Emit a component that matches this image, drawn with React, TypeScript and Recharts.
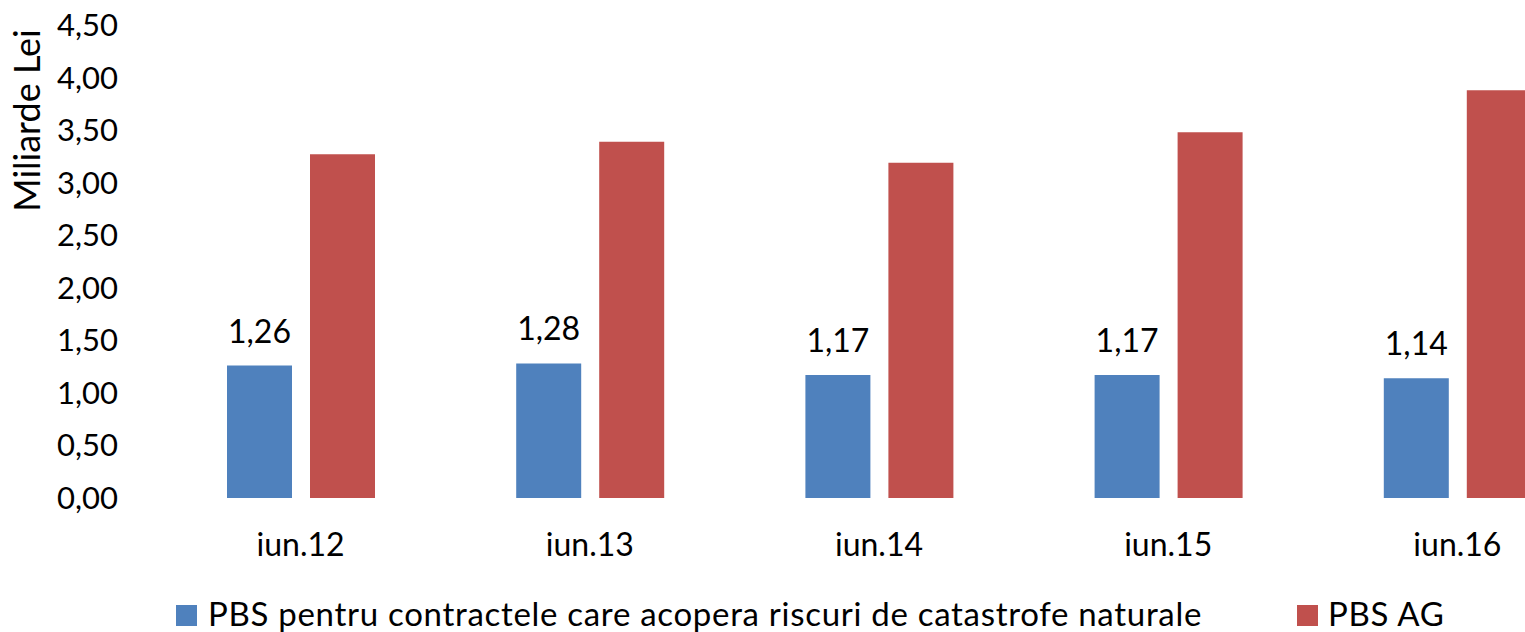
import React from 'react';
import { BarChart, Bar, XAxis, YAxis, Legend, LabelList, Label } from 'recharts';

const categories = ['iun.12', 'iun.13', 'iun.14', 'iun.15', 'iun.16'];
const catastrofeValues = [1.26, 1.28, 1.17, 1.17, 1.14];
const agValues = [3.27, 3.39, 3.19, 3.48, 3.88];
const yTicks = [0, 0.5, 1, 1.5, 2, 2.5, 3, 3.5, 4, 4.5];
const seriesNames = ['PBS pentru contractele care acopera riscuri de catastrofe naturale', 'PBS AG'];
const axisTitle = 'Miliarde Lei';

const data = categories.map((c, i) => ({ cat: c, a: catastrofeValues[i], b: agValues[i] }));

const FONT = 'Lato, "Open Sans", sans-serif';
const BLUE = '#4F81BD';
const RED = '#C0504D';

const fmt = (v: number) => v.toFixed(2).replace('.', ',');

const YTitle = () => (
  <text x={40} y={120.5} transform="rotate(-90, 40, 120.5)" textAnchor="middle" fontFamily={FONT} fontSize={36} fill="#000">
    {axisTitle}
  </text>
);

const legendPos: Record<string, { sq: number; tx: number }> = {
  a: { sq: 176, tx: 208 },
  b: { sq: 1297, tx: 1328 },
};

const renderLegend = (props: any) => {
  const payload = props.payload || [];
  return (
    <div style={{ position: 'relative', height: 44, width: 1525, fontFamily: FONT, fontSize: 33, letterSpacing: '0.7px', color: '#000' }}>
      {payload.map((p: any, i: number) => {
        const pos = legendPos[p.dataKey] || legendPos.a;
        return (
          <React.Fragment key={i}>
            <div style={{ position: 'absolute', left: pos.sq, top: 17, width: 21, height: 21, background: p.color }} />
            <div style={{ position: 'absolute', left: pos.tx, top: 7, lineHeight: '36px', whiteSpace: 'nowrap' }}>{p.value}</div>
          </React.Fragment>
        );
      })}
    </div>
  );
};

export default function App() {
  return (
    <div style={{ position: 'absolute', left: 0, top: 0, width: 1525, height: 632, overflow: 'hidden', background: '#fff' }}>
      <BarChart
        width={1620}
        height={632}
        data={data}
        margin={{ top: 25, right: 18, bottom: 0, left: 0 }}
        barSize={65}
        barGap={18}
      >
        <XAxis
          dataKey="cat"
          axisLine={false}
          tickLine={false}
          tickSize={0}
          tickMargin={35}
          height={90}
          interval={0}
          tick={{ fontFamily: FONT, fontSize: 32, fill: '#000' }}
        />
        <YAxis
          domain={[0, 4.5]}
          ticks={yTicks}
          width={156}
          axisLine={false}
          tickLine={false}
          tickSize={0}
          tickMargin={38}
          tickFormatter={fmt}
          interval={0}
          tick={{ fontFamily: FONT, fontSize: 31, fill: '#000' }}
        >
          <Label content={YTitle} />
        </YAxis>
        <Legend verticalAlign="bottom" content={renderLegend} wrapperStyle={{ left: 0, width: 1525, height: 44 }} />
        <Bar dataKey="a" name={seriesNames[0]} fill={BLUE} isAnimationActive={false}>
          <LabelList dataKey="a" position="top" offset={23} formatter={(v: any) => fmt(Number(v))} style={{ fontFamily: FONT, fontSize: 32, fill: '#000' }} />
        </Bar>
        <Bar dataKey="b" name={seriesNames[1]} fill={RED} isAnimationActive={false} />
      </BarChart>
    </div>
  );
}
